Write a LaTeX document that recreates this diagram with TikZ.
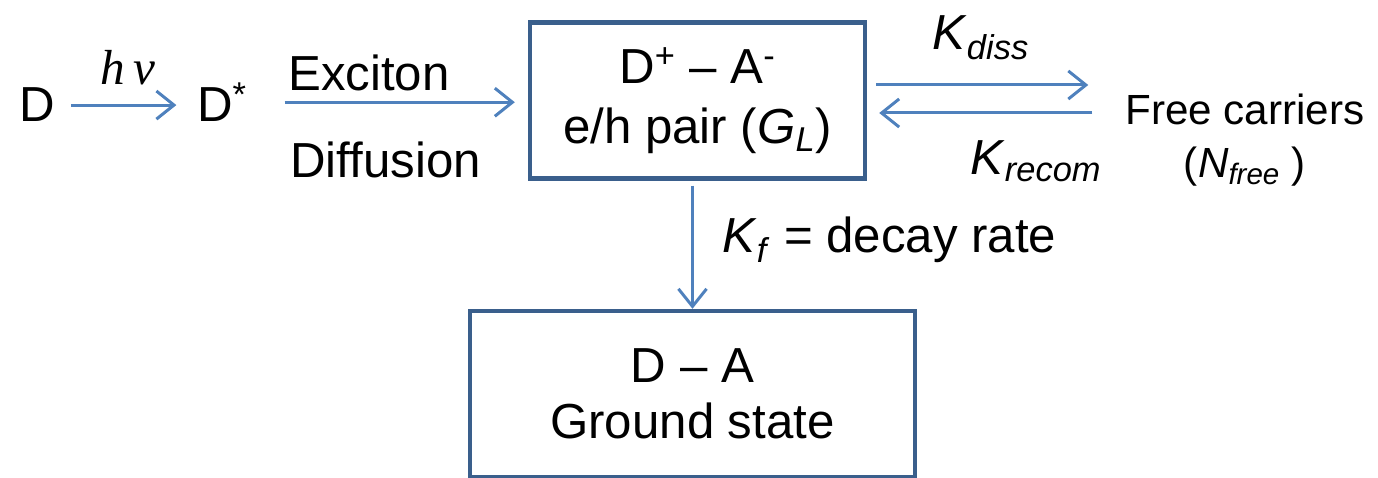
\documentclass[tikz,border=0pt]{standalone}
\usepackage{fontspec}
\setmainfont{Liberation Sans}
\newfontfamily\seriffont{Liberation Serif}
\usetikzlibrary{arrows.meta}

\definecolor{arrowblue}{RGB}{79,129,189}
\definecolor{boxblue}{RGB}{58,95,140}

\begin{document}
\begin{tikzpicture}[>={Straight Barb[length=10pt, width=16pt]},
    font=\fontsize{28}{34}\selectfont,
    flow/.style={->, draw=arrowblue, line width=1.7pt},
    state/.style={draw=boxblue, line width=2.5pt, align=center, inner sep=0pt}]
    \useasboundingbox (0, 0) rectangle (27.56, 9.56);
    % 1. Excitation (D -> D*)
    \node[anchor=base] (d) at (0.74, 7.12) {D};
    \node[anchor=base] (dstar) at (4.44, 7.12) {D\textsuperscript{*}};
    \node[anchor=base west, inner sep=0pt] (hnu) at (2.0, 7.86) {\seriffont\itshape h\,ν};
    \draw[flow, shorten <=0.2cm, shorten >=0.29cm] (d.east) -- (d.east -| dstar.west);
    % 2. Charge-transfer state
    \node[state, minimum width=6.70cm, minimum height=3.12cm,
          font=\fontsize{28}{34}\selectfont] (pair) at (13.95, 7.55)
        {D\textsuperscript{+} -- A\textsuperscript{-}\\
         e/h pair (\textit{G}\textsubscript{\textit{L}})};
    % Exciton diffusion
    \node[anchor=base west, inner sep=0pt] (exciton) at (5.76, 7.74) {Exciton};
    \node[anchor=base west, inner sep=0pt] (diffusion) at (5.80, 6.00) {Diffusion};
    \draw[flow, shorten <=0.63cm, shorten >=0.26cm] (dstar.east) -- (dstar.east -| pair.west);
    % 3. Free carriers
    \node[align=center, font=\fontsize{24}{30.6}\selectfont] (free) at (24.90, 6.76)
        {Free carriers\\(\textit{N}\textsubscript{\textit{free}} )};
    \node[anchor=base west, inner sep=0pt] (kdiss) at (18.64, 8.56)
        {\textit{K}\textsubscript{\textit{diss}}};
    \node[anchor=base west, inner sep=0pt] (krecom) at (19.40, 6.06)
        {\textit{K}\textsubscript{\textit{recom}}};
    \draw[flow, shorten <=0.18cm, shorten >=0.62cm]
        ([yshift=0.31cm]pair.east) -- ([yshift=0.31cm]pair.east -| free.west);
    \draw[flow, shorten <=0.54cm, shorten >=0.24cm]
        ([yshift=-0.25cm]pair.east -| free.west) -- ([yshift=-0.25cm]pair.east);
    % 4. Ground state
    \node[state, minimum width=8.90cm, minimum height=3.32cm,
          font=\fontsize{28}{31.8}\selectfont] (ground) at (13.85, 1.68)
        {D -- A\\Ground state};
    \node[anchor=base west, inner sep=0pt] (kf) at (14.44, 4.50)
        {\textit{K}\textsubscript{\textit{f}} = decay rate};
    \draw[flow, shorten <=0.1cm] (pair.south -| ground.north) -- (ground.north);
\end{tikzpicture}
\end{document}
